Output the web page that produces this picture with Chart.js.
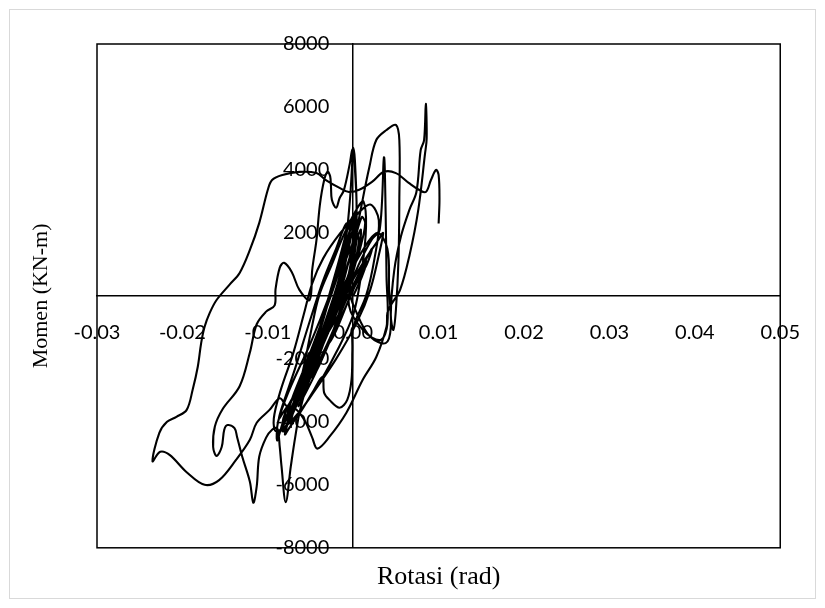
<!DOCTYPE html>
<html>
<head>
<meta charset="utf-8">
<script src="https://cdn.jsdelivr.net/npm/chart.js@4.4.1/dist/chart.umd.min.js"></script>
<style>
body{margin:0;background:#fff}
canvas{display:block}
</style>
</head>
<body>
<canvas id="myChart" width="825" height="608"></canvas>
<script>
"use strict"
// rotasi (rad) / momen (KN-m), in time order
// small cycles round the origin
const rotA = [0, 0.0010, 0.0016, 0.0010, -0.0008, -0.0022, -0.0028, -0.0020,
	0.0000, 0.0016, 0.0022, 0.0014, -0.0006, -0.0030, -0.0044, -0.0048, -0.0038,
	-0.0018, -0.0004, 0.0006, 0.0009, 0.0004, -0.0010, -0.0032, -0.0050, -0.0062, -0.0066, -0.0058,
	-0.0036, -0.0012, -0.0002, 0.0001, -0.0003, -0.0014, -0.0034, -0.0056, -0.0072, -0.0078, -0.0074,
	-0.0054, -0.0030, -0.0010, 0.0000, 0.0003, 0.0000, -0.0012, -0.0035, -0.0060, -0.0078, -0.0084, -0.0081]
const momA = [0, 600, 1100, 800, -300, -1100, -1500, -1100,
	200, 1000, 1500, 1100, 0, -1500, -2300, -2600, -2100,
	-800, 400, 1400, 2100, 1800, 700, -900, -2200, -3000, -3400, -3000,
	-1600, 0, 1200, 2600, 2200, 1000, -600, -2200, -3300, -3900, -3800,
	-2600, -1000, 600, 1800, 2700, 2200, 800, -1000, -2700, -3600, -4200, -4300]
// first large negative excursion, bump and the peak at 0
const rotB = [-0.0070, -0.0055, -0.0040, -0.0025, -0.0010, -0.0004, -0.0001, 0.0000, 0.0002, 0.0004,
	0.0002, -0.0010, -0.0030, -0.0050, -0.0062, -0.0068, -0.0073, -0.0079, -0.0084, -0.0086,
	-0.0089, -0.0095, -0.0102, -0.0110, -0.0113, -0.0117, -0.0121, -0.0130, -0.0136, -0.0139,
	-0.0147, -0.0151, -0.0154, -0.0160, -0.0164, -0.0162, -0.0153, -0.0133, -0.0121, -0.0113,
	-0.0102, -0.0092, -0.0091, -0.0086, -0.0081, -0.0072, -0.0063, -0.0051, -0.0048, -0.0043,
	-0.0039, -0.0034, -0.0030, -0.0027, -0.0026, -0.0025, -0.0020, -0.0016, -0.0011, -0.0004,
	-0.0001, 0.0001, 0.0004]
const momB = [-3400, -2300, -1200, 200, 1600, 3000, 4300, 4700, 4300, 2700,
	1500, 200, -1200, -2500, -3600, -4500, -5400, -6550, -5400, -4800,
	-4200, -4250, -4500, -5100, -6050, -6570, -5900, -5100, -4480, -4200,
	-4100, -4250, -4800, -5080, -4800, -4150, -3600, -2870, -1800, -900,
	-500, -300, 200, 900, 1050, 760, 190, -130, 830, 1780,
	2900, 3680, 3940, 3800, 3460, 3050, 2800, 3100, 3350, 4200,
	4650, 4400, 2700]
// more cycles inside the band
const rotA2 = [0.0000, -0.0015, -0.0040, -0.0065, -0.0080, -0.0083, -0.0078, -0.0060, -0.0040, -0.0020,
	-0.0008, -0.0003, -0.0006, -0.0020, -0.0045, -0.0070, -0.0082, -0.0089, -0.0088, -0.0075,
	-0.0050, -0.0028, -0.0012, 0.0002, 0.0005, 0.0000, -0.0012, -0.0032, -0.0040, -0.0025,
	-0.0005]
const momA2 = [1200, 0, -1800, -3300, -4000, -4300, -4100, -3000, -1700, -200,
	1200, 2400, 2200, 800, -1500, -3400, -4000, -4600, -4000, -3000,
	-1500, 0, 1300, 2500, 2300, 1000, -300, -1300, -1800, -700,
	300]
// wider cycles
const rotA3 = [0.0015, 0.0030, 0.0035, 0.0030, 0.0020, 0.0005, -0.0020, -0.0050, -0.0075, -0.0080,
	-0.0075, -0.0060, -0.0050, -0.0040, -0.0025, -0.0010, 0.0005, 0.0012, 0.0015, 0.0010,
	0.0000, -0.0020, -0.0045, -0.0070, -0.0090, -0.0093, -0.0085, -0.0070, -0.0058, -0.0048,
	-0.0035, -0.0015, 0.0005, 0.0020, 0.0030, 0.0025, 0.0015, 0.0000, -0.0001, -0.0002,
	-0.0007, -0.0016, -0.0028, -0.0034, -0.0036, -0.0048, -0.0062, -0.0072, -0.0068, -0.0050,
	-0.0030, -0.0010, 0.0010, 0.0028, 0.0040, 0.0042, 0.0044, 0.0038, 0.0020, 0.0005,
	-0.0005]
const momA3 = [1200, 1800, 2000, 1300, 200, -800, -2000, -3200, -4200, -4400,
	-3900, -2500, -1200, 0, 1000, 2000, 2800, 3000, 2200, 800,
	-600, -1800, -3000, -3900, -4300, -3900, -3000, -1800, -600, 400,
	1200, 2000, 2600, 2900, 2400, 1200, 0, -1000, -1700, -2670,
	-3300, -3550, -3300, -3080, -2570, -3080, -3700, -4000, -3500, -2200,
	-800, 400, 1400, 2000, 1500, 200, -1000, -1500, -1300, -600,
	300]
// medium cycles filling the band
const rotA4 = [0.0008, 0.0014, 0.0010, 0.0000, -0.0018, -0.0040, -0.0062, -0.0082, -0.0087, -0.0083,
	-0.0068, -0.0052, -0.0035, -0.0020, -0.0008, -0.0004, -0.0015, -0.0032, -0.0052, -0.0070,
	-0.0078, -0.0070, -0.0055, -0.0040, -0.0025, -0.0012, 0.0000, 0.0006, 0.0004, -0.0008,
	-0.0026, -0.0045, -0.0060, -0.0064, -0.0056, -0.0040, -0.0022, -0.0005]
const momA4 = [1500, 2300, 2500, 1600, 0, -1600, -2900, -3700, -3900, -3500,
	-2300, -900, 500, 1500, 2300, 2000, 700, -800, -2300, -3500,
	-4100, -3700, -2700, -1400, -200, 900, 1700, 1900, 1300, 200,
	-1300, -2500, -3300, -3500, -3000, -1900, -600, 300]
// positive excursions, then back down the lower right branch
const rotC = [0.0010, 0.0022, 0.0031, 0.0036, 0.0038, 0.0039, 0.0040, 0.0032, 0.0012, -0.0005,
	0.0000, 0.0004, 0.0011, 0.0019, 0.0027, 0.0039, 0.0050, 0.0054, 0.0054, 0.0053,
	0.0050, 0.0047, 0.0044, 0.0048, 0.0056, 0.0066, 0.0074, 0.0079, 0.0083, 0.0085,
	0.0086, 0.0084, 0.0076, 0.0066, 0.0055, 0.0044, 0.0040, 0.0039, 0.0027, 0.0011,
	-0.0008, -0.0028, -0.0042, -0.0048, -0.0056, -0.0067, -0.0078, -0.0086]
const momC = [1200, 1800, 2100, 4400, 2600, 600, -900, -1400, -1100, -300,
	800, 2000, 3050, 4100, 4950, 5270, 5430, 4950, 3050, 1140,
	-440, -1080, -600, 800, 1900, 2750, 3300, 4630, 4950, 6100,
	5000, 4500, 2700, 1300, 200, -300, -540, -980, -1940, -2670,
	-3710, -4480, -4850, -4500, -4000, -3600, -3500, -3250]
// last big cycle
const rotD = [-0.0098, -0.0113, -0.0121, -0.0137, -0.0157, -0.0174, -0.0195, -0.0215, -0.0226, -0.0235,
	-0.0227, -0.0218, -0.0207, -0.0195, -0.0188, -0.0182, -0.0178, -0.0174, -0.0168, -0.0160,
	-0.0145, -0.0133, -0.0121, -0.0110, -0.0100, -0.0095, -0.0083, -0.0063, -0.0043, -0.0032,
	-0.0016, -0.0005, 0.0007, 0.0022, 0.0036, 0.0050, 0.0065, 0.0077, 0.0085, 0.0091,
	0.0097, 0.0100, 0.0101, 0.0100]
const momD = [-3620, -4030, -4570, -5200, -5850, -6000, -5600, -5050, -4950, -5250,
	-4350, -4000, -3840, -3620, -2980, -2250, -1490, -980, -540, -130,
	350, 730, 1460, 2320, 3370, 3680, 3840, 3940, 3900, 3680,
	3430, 3300, 3370, 3620, 3940, 3900, 3590, 3370, 3300, 3680,
	4000, 3840, 3050, 2300]

const rotasiTicks = [-0.03, -0.02, -0.01, 0, 0.01, 0.02, 0.03, 0.04, 0.05]
const momenTicks = [-8000, -6000, -4000, -2000, 0, 2000, 4000, 6000, 8000]

var hysteresis = hysteresis || {}
hysteresis = (()=>{
	let rotasi, momen, points

	let init=()=>{
		rotasi = [...rotA, ...rotB, ...rotA2, ...rotA3, ...rotA4, ...rotC, ...rotD]
		momen = [...momA, ...momB, ...momA2, ...momA3, ...momA4, ...momC, ...momD]
		points = rotasi.map((r, i)=>({x: r, y: momen[i]}))
	}

	// light outer box and black frame round the plot area
	let framePlugin = {
		id: 'frame',
		beforeDraw(chart){
			const c = chart.ctx
			c.save()
			c.strokeStyle = '#d9d9d9'
			c.lineWidth = 1
			c.strokeRect(9.5, 9.5, 806, 589)
			c.restore()
		},
		beforeDatasetsDraw(chart){
			const c = chart.ctx, a = chart.chartArea
			c.save()
			c.strokeStyle = '#000'
			c.lineWidth = 1.5
			c.strokeRect(a.left, a.top, a.right - a.left, a.bottom - a.top)
			c.restore()
		}
	}

	let tickFont = {family: 'Lato', size: 20}
	let noGrid = {display: false, drawTicks: false}

	let draw=()=>{
		new Chart(document.getElementById('myChart'), {
			type: 'scatter',
			data: {
				datasets: [{
					data: points,
					showLine: true,
					borderColor: '#000',
					borderWidth: 2.1,
					pointRadius: 0,
					tension: 0.35,
					fill: false
				}]
			},
			options: {
				responsive: false,
				animation: false,
				devicePixelRatio: 1,
				layout: {padding: {left: 10, right: 43, top: 44, bottom: 11}},
				plugins: {
					legend: {display: false},
					tooltip: {enabled: false},
					title: {
						display: true, text: 'Rotasi (rad)', position: 'bottom', fullSize: false,
						color: '#000', font: {family: 'Liberation Serif', size: 26, weight: 'normal'},
						padding: {top: 14, bottom: 4}
					},
					subtitle: {
						display: true, text: 'Momen (KN-m)', position: 'left', fullSize: false,
						color: '#000', font: {family: 'Liberation Serif', size: 22, weight: 'normal'},
						padding: {top: 18, bottom: 42.6}
					}
				},
				scales: {
					x: {
						type: 'linear', position: {y: 0}, min: -0.03, max: 0.05,
						afterBuildTicks: s=>{ s.ticks = rotasiTicks.map(v=>({value: v})) },
						grid: noGrid,
						border: {display: true, color: '#000', width: 1.5},
						ticks: {
							color: '#000', font: tickFont, padding: 25, maxRotation: 0, autoSkip: false,
							callback: v=>Math.abs(v) < 1e-9 ? '0.00' : v.toFixed(2)
						}
					},
					// axis line at rotasi = 0
					y: {
						type: 'linear', position: {x: 0}, min: -8000, max: 8000,
						grid: noGrid,
						border: {display: true, color: '#000', width: 1.5},
						ticks: {display: false}
					},
					// its labels, set a little left of the line
					yLab: {
						type: 'linear', position: {x: -0.0028}, min: -8000, max: 8000,
						afterBuildTicks: s=>{ s.ticks = momenTicks.map(v=>({value: v})) },
						grid: noGrid,
						border: {display: false},
						ticks: {
							color: '#000', font: tickFont, padding: 0, autoSkip: false,
							callback: v=>v === 0 ? '' : String(Math.round(v))
						}
					}
				}
			},
			plugins: [framePlugin]
		})
	}

	let onCreate=()=>{
		init()
		draw()
	}
	return {onCreate}
})()
hysteresis.onCreate()
</script>
</body>
</html>
